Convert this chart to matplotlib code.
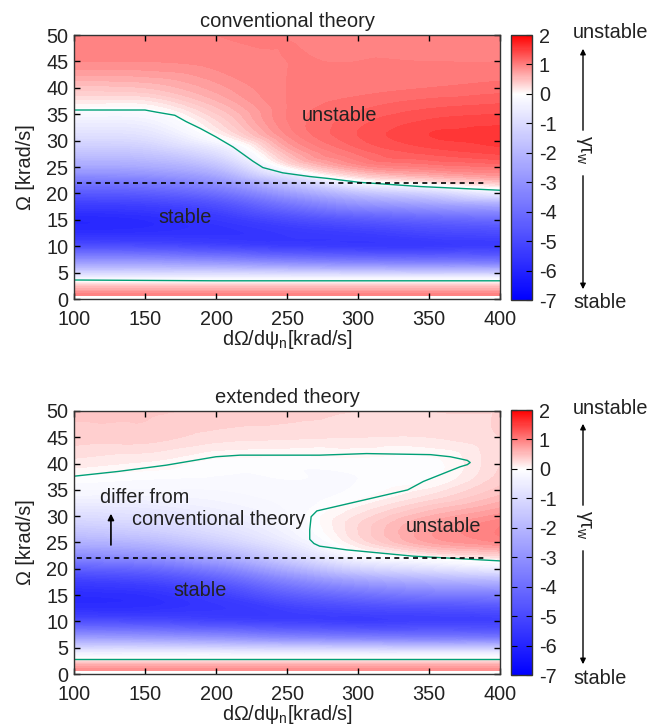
import numpy as np
import matplotlib
matplotlib.use("Agg")
import matplotlib.pyplot as plt
import matplotlib.tri as mtri
from matplotlib.colors import LinearSegmentedColormap, Normalize
from matplotlib.cm import ScalarMappable
from matplotlib.patches import FancyArrowPatch

plt.rcParams["font.family"] = ["Liberation Sans", "DejaVu Sans"]
plt.rcParams["font.size"] = 14
plt.rcParams["axes.unicode_minus"] = False
plt.rcParams["mathtext.fontset"] = "custom"
plt.rcParams["mathtext.rm"] = "Liberation Sans"
plt.rcParams["mathtext.it"] = "Liberation Sans:italic"

# grid of the growth-rate maps (x: dOmega/dpsi_n, rows: Omega)
dom_x = [100, 150, 200, 250, 300, 350, 400]
omega = [0.7, 2, 3, 4, 5, 7, 10, 12, 15, 18, 20, 22, 25, 28, 31, 34, 37, 40, 45, 50]

# conventional theory, one list per x column (values along omega)
conv_100 = [1.0, 0.6, 0.2, -0.4, -1.2, -2.8, -4.8, -5.6, -5.9, -5.3, -4.6, -3.8, -2.5, -1.6, -0.9, -0.4, 0.1, 0.45, 0.9, 0.95]
conv_150 = [1.0, 0.6, 0.2, -0.4, -1.2, -2.8, -4.9, -5.6, -5.8, -5.2, -4.5, -3.7, -2.4, -1.5, -0.8, -0.35, 0.1, 0.5, 0.9, 0.95]
conv_200 = [1.0, 0.6, 0.2, -0.4, -1.2, -3.0, -5.1, -5.6, -5.5, -4.8, -4.0, -3.1, -1.8, -0.8, 0.0, 0.3, 0.55, 0.75, 0.95, 1.0]
conv_250 = [1.0, 0.6, 0.2, -0.4, -1.3, -3.3, -5.3, -5.5, -5.0, -3.8, -2.8, -1.7, 0.05, 0.6, 0.9, 1.0, 1.0, 1.0, 1.0, 1.0]
conv_300 = [1.0, 0.6, 0.2, -0.4, -1.4, -3.5, -5.4, -5.4, -4.6, -3.0, -1.8, -0.3, 0.8, 1.15, 1.3, 1.25, 1.15, 1.05, 1.0, 1.0]
conv_350 = [1.0, 0.6, 0.2, -0.4, -1.5, -3.6, -5.4, -5.2, -4.3, -2.6, -1.3, 0.1, 1.0, 1.35, 1.5, 1.4, 1.25, 1.1, 1.0, 1.0]
conv_400 = [1.0, 0.6, 0.2, -0.4, -1.5, -3.7, -5.3, -5.1, -4.1, -2.3, -0.6, 0.4, 1.1, 1.45, 1.55, 1.45, 1.3, 1.15, 1.0, 1.0]

# extended theory
ext_100 = [0.9, 0.5, -0.05, -0.5, -1.2, -2.8, -4.8, -5.6, -5.8, -5.2, -4.4, -3.4, -2.2, -1.4, -0.8, -0.3, -0.05, 0.15, 0.35, 0.42]
ext_150 = [0.9, 0.5, -0.05, -0.5, -1.2, -2.9, -4.9, -5.6, -5.7, -5.0, -4.2, -3.2, -2.0, -1.2, -0.7, -0.3, -0.1, 0.08, 0.35, 0.42]
ext_200 = [0.9, 0.5, -0.05, -0.5, -1.3, -3.1, -5.1, -5.5, -5.3, -4.4, -3.5, -2.5, -1.4, -0.8, -0.45, -0.25, -0.12, -0.05, 0.25, 0.38]
ext_250 = [0.9, 0.5, -0.05, -0.6, -1.4, -3.4, -5.2, -5.3, -4.5, -3.3, -2.3, -1.4, -0.6, -0.3, -0.2, -0.15, -0.1, -0.07, 0.22, 0.35]
ext_300 = [0.9, 0.5, -0.05, -0.6, -1.5, -3.6, -5.3, -5.1, -4.0, -2.5, -1.3, -0.35, 0.2, 0.3, 0.15, -0.05, -0.1, -0.05, 0.2, 0.3]
ext_350 = [0.9, 0.5, -0.05, -0.6, -1.6, -3.7, -5.2, -5.0, -3.7, -2.1, -0.9, -0.05, 0.7, 0.75, 0.5, 0.2, -0.02, -0.05, 0.2, 0.3]
ext_400 = [0.9, 0.5, -0.05, -0.6, -1.6, -3.8, -5.2, -4.9, -3.6, -1.9, -0.6, 0.15, 0.9, 1.0, 0.75, 0.5, 0.35, 0.3, 0.3, 0.3]

# marginal-stability curves (gamma = 0)
conv_upper_x = [100, 150, 158, 171, 179, 189, 200, 212, 226, 233, 247, 266, 280, 301, 344, 400]
conv_upper_y = [35.8, 35.8, 35.4, 34.8, 33.6, 32.3, 30.7, 28.8, 26.1, 24.9, 23.9, 23.2, 22.8, 22.1, 21.3, 20.6]
conv_lower_x = [100, 200, 400]
conv_lower_y = [3.6, 3.45, 3.45]

ext_upper_x = [100, 131, 165, 200, 217, 273, 306, 351, 365, 372, 377, 379, 377, 372, 346, 335, 271, 267, 266, 266, 269, 273, 292, 339, 400]
ext_upper_y = [37.6, 38.5, 39.7, 41.3, 41.6, 41.6, 41.9, 41.7, 41.3, 40.9, 40.6, 40.2, 39.8, 39.4, 36.6, 35.0, 31.0, 29.9, 27.4, 25.6, 24.8, 24.3, 23.6, 22.4, 21.5]
ext_lower_x = [100, 400]
ext_lower_y = [2.9, 2.9]

omega_ref = 22
ref_x = [102, 390]
cbar_ticks = [-7, -6, -5, -4, -3, -2, -1, 0, 1, 2]

cmap = LinearSegmentedColormap.from_list(
    "gamma", [(0.0, "#0000ff"), (7 / 9, "#ffffff"), (1.0, "#ff0000")])
norm = Normalize(vmin=-7, vmax=2)
green = "#00a077"
txt = "#222222"

fig = plt.figure(figsize=(6.47, 7.27), dpi=100)


def draw_panel(ax, cax, cols, upper, lower, title):
    z = np.column_stack(cols).ravel()
    X, Y = np.meshgrid(dom_x, omega)
    # smooth the coarse map with matplotlib's own cubic triangle refiner
    tri = mtri.Triangulation((X.ravel() - 100) / 300, Y.ravel() / 50)
    interp = mtri.CubicTriInterpolator(tri, z, kind="geom")
    tri_f, z_f = mtri.UniformTriRefiner(tri).refine_field(z, triinterpolator=interp, subdiv=3)
    tri_p = mtri.Triangulation(tri_f.x * 300 + 100, tri_f.y * 50, tri_f.triangles)
    ax.tricontourf(tri_p, z_f, levels=np.linspace(-7, 2, 91), cmap=cmap, norm=norm,
                   extend="both")
    ax.plot(upper[0], upper[1], color=green, lw=1.0)
    ax.plot(lower[0], lower[1], color=green, lw=1.0)
    ax.plot(ref_x, [omega_ref, omega_ref], color="black", lw=1.2,
            linestyle=(0, (3, 2.6)))
    ax.set_xlim(100, 400)
    ax.set_ylim(0, 50)
    ax.set_xticks(range(100, 401, 50))
    ax.set_yticks(range(0, 51, 5))
    ax.tick_params(direction="in", top=True, right=True, length=4, width=1,
                   labelsize=14.3, labelcolor=txt)
    ax.tick_params(axis="x", pad=8)
    ax.tick_params(axis="y", pad=4)
    for s in ax.spines.values():
        s.set_linewidth(1.0)
        s.set_color("#333333")
    ax.set_title(title, fontsize=14.5, pad=6, color=txt)
    ax.set_xlabel("dΩ/dψ$_{\\rm n}$[krad/s]", fontsize=14.3, labelpad=-1, color=txt)
    ax.set_ylabel("Ω [krad/s]", fontsize=14.3, labelpad=8, color=txt)

    sm = ScalarMappable(norm=norm, cmap=cmap)
    cb = fig.colorbar(sm, cax=cax)
    cb.set_ticks(cbar_ticks)
    cb.set_ticklabels([str(t) for t in cbar_ticks])
    cb.outline.set_linewidth(1.0)
    cb.outline.set_edgecolor("#333333")
    cax.tick_params(direction="in", left=True, right=True, length=4,
                    labelsize=14.3, pad=5, labelcolor=txt)


ax1 = fig.add_axes([0.1144, 0.5887, 0.6584, 0.3631])
cax1 = fig.add_axes([0.7898, 0.5873, 0.0325, 0.3645])
ax2 = fig.add_axes([0.1144, 0.0729, 0.6584, 0.3618])
cax2 = fig.add_axes([0.7898, 0.0715, 0.0325, 0.3645])

draw_panel(ax1, cax1, [conv_100, conv_150, conv_200, conv_250, conv_300, conv_350, conv_400],
           (conv_upper_x, conv_upper_y), (conv_lower_x, conv_lower_y), "conventional theory")
draw_panel(ax2, cax2, [ext_100, ext_150, ext_200, ext_250, ext_300, ext_350, ext_400],
           (ext_upper_x, ext_upper_y), (ext_lower_x, ext_lower_y), "extended theory")

# region labels
ax1.text(287, 34.8, "unstable", ha="center", va="center", fontsize=14.3, color=txt)
ax1.text(178, 15.5, "stable", ha="center", va="center", fontsize=14.3, color=txt)
ax2.text(118, 33.6, "differ from", ha="left", va="center", fontsize=14.3, color=txt)
ax2.text(141, 29.3, "conventional theory", ha="left", va="center", fontsize=14.3, color=txt)
ax2.annotate("", xy=(126, 31.0), xytext=(126, 24.0),
             arrowprops=dict(arrowstyle="-|>", color="black", lw=1.2, mutation_scale=9))
ax2.text(189, 15.8, "stable", ha="center", va="center", fontsize=14.3, color=txt)
ax2.text(360, 28.1, "unstable", ha="center", va="center", fontsize=14.3, color=txt)

# stability direction arrows beside the colour bars
xa = 583 / 647
for dy in [0.0, 375 / 727]:
    fig.text(573 / 647, 1 - 33 / 727 - dy, "unstable", ha="left", va="center",
             fontsize=14.3, color=txt)
    fig.text(573 / 647, 1 - 303 / 727 - dy, "stable", ha="left", va="center",
             fontsize=14.3, color=txt)
    fig.text(xa, 1 - 150 / 727 - dy, "γτ$_{\\rm w}$", rotation=-90,
             ha="center", va="center", fontsize=14.3, color=txt)
    fig.add_artist(FancyArrowPatch(
        (xa, 1 - 133 / 727 - dy), (xa, 1 - 46 / 727 - dy), transform=fig.transFigure,
        arrowstyle="-|>", mutation_scale=8, color="black", lw=1.0))
    fig.add_artist(FancyArrowPatch(
        (xa, 1 - 173 / 727 - dy), (xa, 1 - 292 / 727 - dy), transform=fig.transFigure,
        arrowstyle="-|>", mutation_scale=8, color="black", lw=1.0))

fig.savefig("out.png", dpi=100)
